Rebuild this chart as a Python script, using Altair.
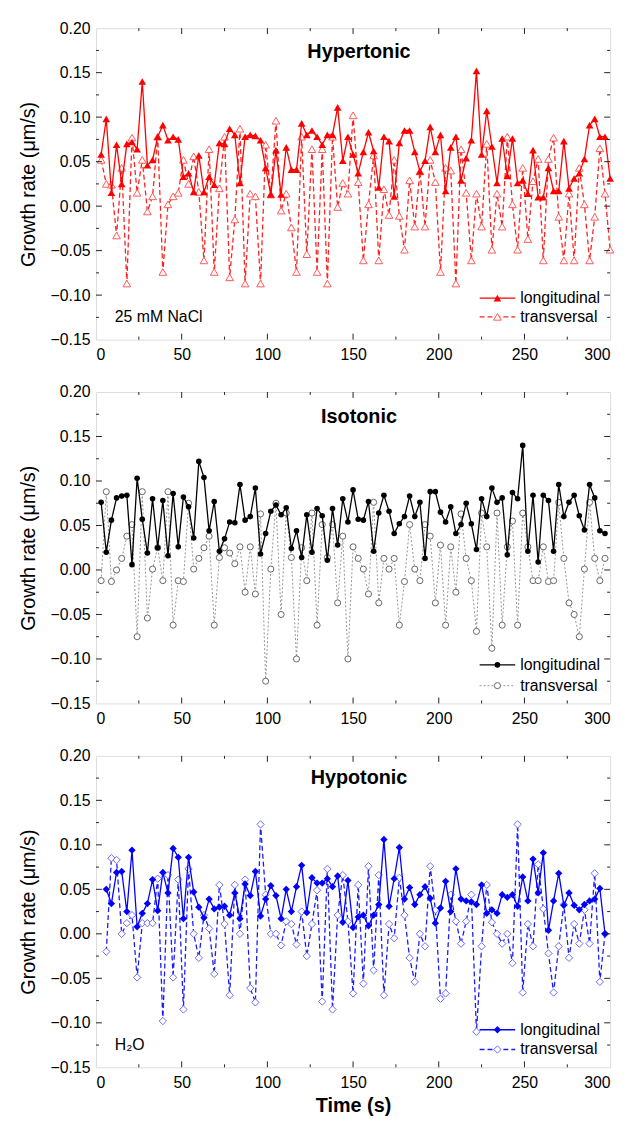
import altair as alt
import pandas as pd

FONT = "Liberation Sans"
W, H = 520, 315

# ---------------- data ----------------
times_hyper = list(range(3, 301, 3))
hyper_long = [0.058, 0.098, 0.015, 0.069, 0.025, 0.070, 0.072, 0.064, 0.140, 0.046,
              0.052, 0.078, 0.091, 0.074, 0.078, 0.075, 0.033, 0.037, 0.016, 0.057,
              0.016, 0.033, 0.024, 0.071, 0.070, 0.087, 0.080, 0.026, 0.078, 0.080,
              0.079, 0.074, 0.043, 0.013, 0.063, 0.013, 0.066, 0.041, 0.041, 0.093,
              0.080, 0.085, 0.078, 0.069, 0.080, 0.080, 0.111, 0.051, 0.078, 0.058,
              0.037, 0.061, 0.083, 0.062, 0.021, 0.078, 0.073, 0.011, 0.071, 0.085,
              0.085, 0.061, 0.039, 0.051, 0.089, 0.061, 0.080, 0.017, 0.066, 0.078,
              0.029, 0.054, 0.074, 0.152, 0.058, 0.107, 0.067, 0.026, 0.076, 0.034,
              0.076, 0.026, 0.029, 0.014, 0.063, 0.010, 0.010, 0.043, 0.017, 0.017,
              0.073, 0.020, 0.031, 0.037, 0.053, 0.091, 0.098, 0.078, 0.078, 0.031]
hyper_trans = [0.052, 0.025, 0.024, -0.033, 0.043, -0.087, 0.077, 0.015, 0.052, -0.006,
               0.011, 0.078, -0.074, 0.002, 0.011, 0.015, 0.052, 0.025, 0.056, 0.016,
               -0.061, 0.064, -0.074, 0.020, 0.078, -0.080, -0.015, 0.087, -0.087, 0.014,
               0.011, -0.087, 0.069, 0.013, 0.096, -0.005, 0.014, -0.024, -0.074, 0.078,
               -0.054, 0.064, -0.074, 0.064, -0.087, 0.078, -0.001, 0.026, 0.014, 0.102,
               0.027, -0.061, 0.002, 0.057, -0.061, 0.019, -0.010, 0.052, -0.011, -0.049,
               0.029, -0.023, 0.039, -0.023, 0.052, 0.027, -0.074, 0.043, 0.040, -0.087,
               0.064, 0.015, -0.061, 0.014, -0.023, 0.070, -0.049, 0.014, -0.023, 0.078,
               0.002, -0.049, 0.043, -0.037, 0.028, 0.053, -0.061, 0.053, 0.077, -0.012,
               -0.061, 0.014, -0.061, 0.043, 0.002, -0.061, -0.012, 0.065, 0.014, -0.049]

times_iso = list(range(3, 298, 3))
iso_long = [0.076, 0.020, 0.056, 0.081, 0.083, 0.084, 0.006, 0.103, 0.057, 0.019,
            0.080, 0.025, 0.078, 0.016, 0.086, 0.026, 0.082, 0.071, 0.036, 0.122,
            0.104, 0.044, 0.077, 0.021, 0.035, 0.054, 0.053, 0.096, 0.056, 0.060,
            0.092, 0.018, 0.041, 0.066, 0.073, 0.062, 0.070, 0.024, 0.044, 0.014,
            0.062, 0.020, 0.069, 0.061, 0.011, 0.069, 0.028, 0.080, 0.054, 0.090,
            0.057, 0.056, 0.077, 0.021, 0.064, 0.084, 0.066, 0.041, 0.052, 0.060,
            0.083, 0.060, 0.076, 0.013, 0.088, 0.088, 0.065, 0.054, 0.071, 0.041,
            0.051, 0.075, 0.052, 0.023, 0.080, 0.060, 0.092, 0.076, 0.081, 0.017,
            0.087, 0.080, 0.140, 0.021, 0.084, 0.009, 0.084, 0.078, 0.021, 0.096,
            0.060, 0.076, 0.084, 0.061, 0.045, 0.096, 0.081, 0.044, 0.041]
iso_trans = [-0.012, 0.088, -0.013, 0.000, 0.013, 0.038, 0.051, -0.075, 0.088, -0.054,
             0.001, 0.025, -0.012, 0.088, -0.062, -0.012, -0.013, 0.075, 0.001, 0.013,
             0.025, 0.038, -0.062, 0.014, 0.025, 0.019, 0.007, 0.026, -0.025, 0.026,
             -0.027, 0.063, -0.125, 0.001, 0.075, -0.050, 0.064, 0.014, -0.100, 0.025,
             -0.012, 0.064, -0.062, 0.051, 0.014, 0.051, -0.037, 0.038, -0.100, 0.026,
             0.013, 0.001, -0.027, 0.076, -0.037, 0.013, 0.001, 0.013, -0.062, -0.013,
             0.051, 0.001, -0.012, 0.051, 0.038, -0.037, 0.028, -0.062, 0.026, -0.025,
             0.063, 0.013, -0.012, -0.069, 0.064, 0.026, -0.088, 0.064, -0.062, 0.026,
             0.055, -0.062, 0.064, 0.026, -0.012, -0.012, 0.026, -0.013, -0.012, 0.076,
             0.013, -0.037, -0.050, -0.075, 0.001, 0.076, 0.013, -0.012, 0.013]

times_hypo = list(range(6, 298, 3))
hypo_long = [0.050, 0.034, 0.069, 0.070, 0.025, 0.094, 0.008, 0.023, 0.034, 0.061,
             0.026, 0.069, 0.046, 0.096, 0.086, 0.017, 0.086, 0.047, 0.030, 0.018,
             0.039, 0.028, 0.030, 0.031, 0.021, 0.046, 0.017, 0.056, 0.043, 0.070,
             0.020, 0.039, 0.054, 0.043, 0.017, 0.050, 0.025, 0.053, 0.077, 0.024,
             0.063, 0.057, 0.057, 0.062, 0.053, 0.065, 0.013, 0.060, 0.007, 0.019,
             0.021, 0.009, 0.021, 0.033, 0.106, 0.031, 0.062, 0.097, 0.039, 0.052,
             0.033, 0.044, 0.053, 0.040, 0.012, 0.029, 0.059, 0.025, 0.073, 0.039,
             0.037, 0.036, 0.033, 0.055, 0.023, 0.027, 0.023, 0.044, 0.041, 0.044,
             0.031, 0.064, 0.037, 0.084, 0.046, 0.091, 0.004, 0.037, 0.068, 0.032,
             0.046, 0.032, 0.027, 0.033, 0.037, 0.039, 0.051, 0.000]
hypo_trans = [-0.020, 0.085, 0.083, 0.000, 0.012, 0.021, -0.049, 0.012, 0.012, 0.012,
              0.062, -0.098, 0.066, -0.049, 0.061, -0.085, 0.073, 0.000, -0.027, 0.021,
              0.006, -0.045, 0.055, 0.011, -0.069, 0.055, 0.000, 0.061, -0.061, -0.077,
              0.123, 0.044, 0.000, 0.000, -0.013, 0.014, 0.011, -0.012, 0.025, -0.025,
              0.011, 0.049, -0.076, 0.073, -0.085, 0.021, 0.066, 0.014, -0.067, 0.055,
              -0.056, 0.076, -0.041, 0.066, -0.069, 0.011, -0.005, 0.063, 0.021, -0.027,
              -0.054, 0.000, -0.014, 0.076, 0.027, -0.073, -0.067, 0.044, 0.014, -0.011,
              0.014, 0.044, -0.110, -0.014, 0.055, 0.013, 0.000, -0.011, 0.000, -0.033,
              0.123, -0.066, 0.011, -0.014, 0.078, 0.028, -0.022, -0.066, -0.014, 0.033,
              -0.027, 0.011, -0.011, 0.027, -0.011, 0.068, -0.054, 0.000]

x_major = [0, 50, 100, 150, 200, 250, 300]
x_minor = [25, 75, 125, 175, 225, 275]
y_major = [-0.15, -0.10, -0.05, 0.0, 0.05, 0.10, 0.15, 0.20]
y_minor = [-0.125, -0.075, -0.025, 0.025, 0.075, 0.125, 0.175]

XS = alt.Scale(domain=[0, 300], nice=False, zero=False)
YS = alt.Scale(domain=[-0.15, 0.20], nice=False, zero=False)
ONE = pd.DataFrame({"k": [0]})


def tick_layers(xax, yax):
    out = []
    for vals, L in ((x_major[1:-1], 6), (x_minor, 3)):
        d = pd.DataFrame({"xt": vals})
        b = alt.Chart(d).mark_rule(color="#222222", strokeWidth=1)
        xe = alt.X("xt:Q", scale=XS, axis=xax)
        out.append(b.encode(x=xe, y=alt.value(H), y2=alt.value(H - L)))
        out.append(b.encode(x=xe, y=alt.value(0), y2=alt.value(L)))
    for vals, L in ((y_major[1:-1], 6), (y_minor, 3)):
        d = pd.DataFrame({"yt": vals})
        b = alt.Chart(d).mark_rule(color="#222222", strokeWidth=1)
        ye = alt.Y("yt:Q", scale=YS, axis=yax)
        out.append(b.encode(y=ye, x=alt.value(0), x2=alt.value(L)))
        out.append(b.encode(y=ye, x=alt.value(W), x2=alt.value(W - L)))
    return out


def panel(times, long_vals, trans_vals, c_long, c_trans_line, c_trans_pt, shape,
          size_long, size_trans, dash, trans_width, title, ty, leg_y, note, xtitle):
    df = pd.DataFrame({"t": times, "long": long_vals, "trans": trans_vals})
    xspec = dict(values=x_major, ticks=False, domain=False, grid=False, labelPadding=7,
                 labelFontSize=16)
    if xtitle:
        xspec["title"] = "Time (s)"
        xspec["titleFontSize"] = 20
        xspec["titleFontWeight"] = "bold"
        xspec["titlePadding"] = 6
    else:
        xspec["title"] = ""
    xax = alt.Axis(**xspec)
    yax = alt.Axis(values=y_major, format=".2f", ticks=False, domain=False, grid=False,
                   labelPadding=6, labelFontSize=16, title="Growth rate (μm/s)",
                   titleFontSize=20, titleFontWeight="normal", titlePadding=12)
    xe = alt.X("t:Q", scale=XS, axis=xax)
    base = alt.Chart(df)
    trans_line = base.mark_line(color=c_trans_line, strokeWidth=trans_width,
                                strokeDash=dash).encode(
        x=xe, y=alt.Y("trans:Q", scale=YS, axis=yax))
    trans_pts = base.mark_point(shape=shape, filled=True, fill="white", fillOpacity=1,
                                stroke=c_trans_pt, strokeWidth=1, size=size_trans,
                                opacity=1).encode(
        x=xe, y=alt.Y("trans:Q", scale=YS, axis=yax))
    long_line = base.mark_line(color=c_long, strokeWidth=1.3).encode(
        x=xe, y=alt.Y("long:Q", scale=YS, axis=yax))
    long_pts = base.mark_point(shape=shape, filled=True, color=c_long, size=size_long,
                               opacity=1).encode(
        x=xe, y=alt.Y("long:Q", scale=YS, axis=yax))

    o = alt.Chart(ONE)
    layers = [trans_line, trans_pts, long_line, long_pts]
    layers += tick_layers(xax, yax)
    # panel title inside the plot
    layers.append(o.mark_text(font=FONT, fontSize=20, fontWeight="bold", color="black",
                              align="center", baseline="middle").encode(
        x=alt.value(266), y=alt.value(ty), text=alt.value(title)))
    # custom legend
    y1, y2 = leg_y
    layers.append(o.mark_rule(color=c_long, strokeWidth=1.3).encode(
        x=alt.value(388), x2=alt.value(424), y=alt.value(y1)))
    layers.append(o.mark_point(shape=shape, filled=True, color=c_long, size=size_long,
                               opacity=1).encode(x=alt.value(406), y=alt.value(y1)))
    layers.append(o.mark_rule(color=c_trans_line, strokeWidth=trans_width,
                              strokeDash=dash).encode(
        x=alt.value(388), x2=alt.value(424), y=alt.value(y2)))
    layers.append(o.mark_point(shape=shape, filled=True, fill="white", fillOpacity=1,
                               stroke=c_trans_pt, strokeWidth=1, size=size_trans,
                               opacity=1).encode(x=alt.value(406), y=alt.value(y2)))
    for yy, txt in ((y1, "longitudinal"), (y2, "transversal")):
        layers.append(o.mark_text(font=FONT, fontSize=16, color="black", align="left",
                                  baseline="middle").encode(
            x=alt.value(429), y=alt.value(yy), text=alt.value(txt)))
    if note:
        layers.append(o.mark_text(font=FONT, fontSize=16, color="black", align="left",
                                  baseline="middle").encode(
            x=alt.value(19), y=alt.value(292), text=alt.value(note)))
    return alt.layer(*layers).properties(width=W, height=H)


top = panel(times_hyper, hyper_long, hyper_trans, "#ff0000", "#ff2020", "#ff5a5a",
            "triangle-up", 60, 60, [5, 3], 1.3, "Hypertonic", 24, (273, 292),
            "25 mM NaCl", False)
mid = panel(times_iso, iso_long, iso_trans, "#000000", "#888888", "#666666",
            "circle", 32, 38, [2, 2], 0.9, "Isotonic", 25, (276, 297), None, False)
bot = panel(times_hypo, hypo_long, hypo_trans, "#0000ff", "#1a1aff", "#6a6aff",
            "diamond", 55, 55, [5, 3], 1.3, "Hypotonic", 22, (277, 297), "H₂O", True)

chart = alt.vconcat(top, mid, bot, spacing=53, bounds="flush").configure_view(
    stroke="#222222", strokeWidth=1.3
).configure_axis(
    labelFont=FONT, titleFont=FONT, labelColor="black", titleColor="black"
).configure(padding={"left": 10, "top": 5, "right": 5, "bottom": 5})

chart.save("out.html", embed_options={"renderer": "svg", "actions": False})
